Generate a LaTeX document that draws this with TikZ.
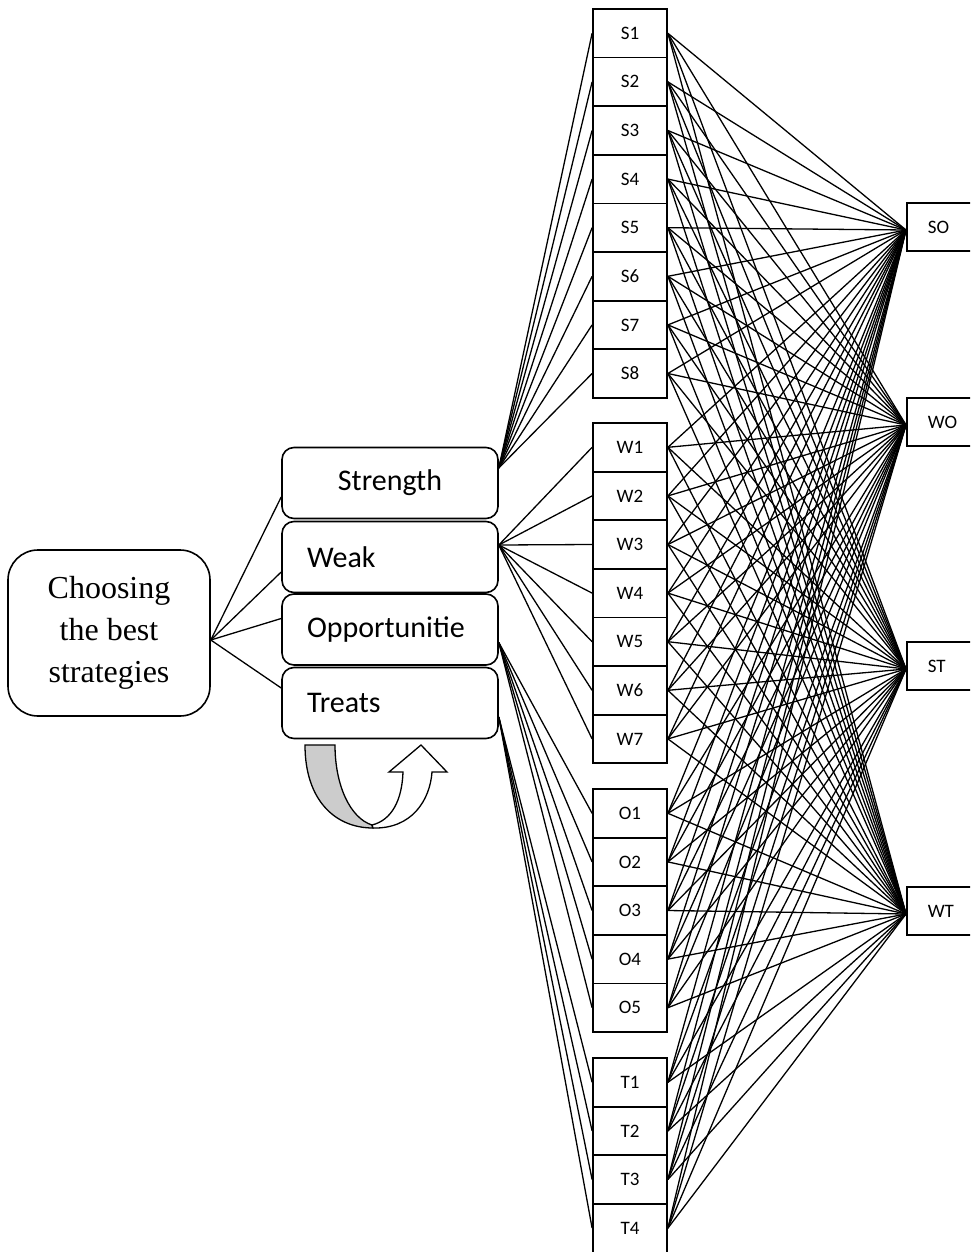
\documentclass[tikz,border=0pt]{standalone}
\usepackage{fontspec}
\setmainfont{Liberation Serif}
\setsansfont{Carlito}
\usetikzlibrary{calc}

\begin{document}
\begin{tikzpicture}[x=1pt, y=-1pt,
                cell/.style={draw, line width=1.8pt,
                             minimum width=74pt, minimum height=48.6pt,
                             inner sep=0pt, font=\sffamily\fontsize{19}{22}\selectfont},
                part/.style={draw, line width=1.6pt, rounded corners=12pt,
                             text width=166pt, inner xsep=25pt, inner ysep=0pt,
                             minimum height=71pt, align=left,
                             font=\sffamily\fontsize{30}{36}\selectfont},
                pair/.style={draw, line width=1.6pt, fill=white, anchor=west,
                             text width=60pt, inner xsep=21pt, inner ysep=0pt,
                             minimum height=48pt, align=left,
                             font=\sffamily\fontsize{19}{22}\selectfont},
                link/.style={line width=1.3pt}]
                \useasboundingbox (0,0) rectangle (970,1252);
                \clip (0,0) rectangle (970,1252);

                % root and the four SWOT parts
                \node[draw, line width=1.6pt, rounded corners=30pt, fill=white,
                      minimum width=202pt, minimum height=166pt, align=center,
                      font=\fontsize{32}{42}\selectfont]
                      (choose) at (109,633) {Choosing\\the best\\strategies};
                \node[part, align=center] (strength) at (390,483) {Strength};
                \node[part] (weak) at (390,557) {Weak};
                \node[part] (opp) at (390,629.5) {Opportunitie};
                \node[part] (treats) at (390,703) {Treats};

                \draw[link] ([yshift=-7pt]choose.east) -- ([yshift=-14pt]strength.west);
                \draw[link] ([yshift=-7pt]choose.east) -- ([yshift=-15pt]weak.west);
                \draw[link] ([yshift=-7pt]choose.east) -- ([yshift=11pt]opp.west);
                \draw[link] ([yshift=-7pt]choose.east) -- ([yshift=15pt]treats.west);

                % factor cells
                \foreach \g/\n/\top in {S/8/9, W/7/423, O/5/789, T/4/1058}
                  \foreach \i in {1,...,\n}
                    \node[cell] (\g\i) at (630,{\top+48.6*(\i-0.5)}) {\g\i};

                % strategy boxes
                \node[pair] (so) at (906,227) {SO};
                \node[pair] (wo) at (906,422) {WO};
                \node[pair] (st) at (906,666) {ST};
                \node[pair] (wt) at (906,911) {WT};

                \foreach \g/\n/\p/\s in {S/8/strength/15, W/7/weak/12,
                                         O/5/opp/-13, T/4/treats/-14}
                  \foreach \i in {1,...,\n}
                    \draw[link] ([yshift=\s pt]\p.east) -- (\g\i.west);

                \foreach \g/\n in {S/8, W/7, O/5, T/4}
                  \foreach \i in {1,...,\n}
                    \foreach \r in {so, wo, st, wt}
                      \draw[link] (\g\i.east) -- ([yshift=-3pt]\r.west);

                % turn-around arrow under Treats
                \draw[line width=1.3pt, fill=black!20]
                      (305,745) -- (335,745)
                      .. controls (335,785) and (350,818) .. (372,825)
                      -- (373,828)
                      .. controls (335,828) and (305,800) .. (305,745) -- cycle;
                \draw[line width=1.3pt, fill=white]
                      (372,825) -- (373,828)
                      .. controls (412,829) and (430,800) .. (432,772)
                      -- (447,772) -- (421,745) -- (389,772) -- (403,772)
                      .. controls (402,800) and (392,820) .. (372,825) -- cycle;
            \end{tikzpicture}
\end{document}
